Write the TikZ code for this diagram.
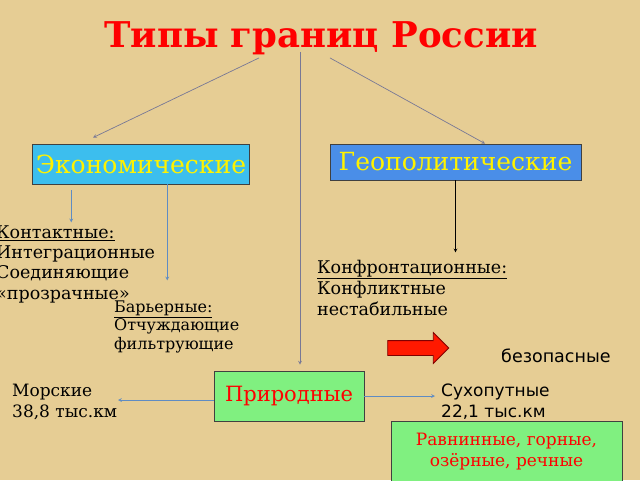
\documentclass[tikz,border=0pt]{standalone}
\usepackage{fontspec}
\setmainfont{DejaVu Serif}
\newfontfamily\sansru{DejaVu Sans}
\usetikzlibrary{calc}
\usetikzlibrary{shapes.arrows}
\definecolor{fon}{RGB}{230,205,148}
\definecolor{goluboy}{RGB}{60,190,238}
\definecolor{siniy}{RGB}{74,142,232}
\definecolor{zelenyy}{RGB}{128,240,128}
\definecolor{seraya}{RGB}{120,120,150}
\definecolor{sinyaya}{RGB}{95,140,195}
\tikzset{blok/.style={draw=black!75,line width=0.8pt,fill=#1},blok/.default=zelenyy}
\tikzset{strelka/.style={->,color=#1,line width=0.7pt},strelka/.default=sinyaya}

\begin{document}
\begin{tikzpicture}[x=1pt,y=-1pt,>=stealth,
                    tekst/.style={inner sep=0pt,anchor=base west,align=left},
                    nadpis/.style={text=yellow,font=\fontsize{25}{30}\selectfont}]

		% Фон
		\fill [fon] (0,0) rectangle (640,480);
		\useasboundingbox (0,0) rectangle (640,480);

		% Заголовок
		\node [anchor=base,text=red,font=\bfseries\fontsize{35.5}{40}\selectfont]
			(titul) at (321,47) {Типы границ России};

		% Три группы границ
		\node [blok=goluboy,nadpis,minimum width=216,minimum height=40]
			(ekon) at (141,164) {Экономические};
		\node [blok=siniy,nadpis,minimum width=251,minimum height=36]
			(geo) at (455.5,162) {Геополитические};
		\node [blok,text=red,font=\fontsize{21}{25}\selectfont,minimum width=150,minimum height=50]
			(prir) at (289,396) {Природные};

		% Стрелки от заголовка
		\draw [strelka=seraya] ($(titul.south)+(-62,0)$) -- ($(ekon.north)+(-48,-6)$);
		\draw [strelka=seraya] ($(titul.south)+(9,0)$) -- ($(geo.north)+(29.5,0)$);
		\draw [strelka=seraya] ($(titul.south)+(-21,-6)$) -- ($(prir.north)+(11,-6)$);

		% Экономические (base = последняя строка)
		\node [tekst,font=\fontsize{17.5}{20.3}\selectfont] (kontakt) at (-4,299)
			{\underline{Контактные:}\\Интеграционные\\Соединяющие\\«прозрачные»};
		\node [tekst,font=\fontsize{16}{18.5}\selectfont] (barier) at (114,349)
			{\underline{Барьерные:}\\Отчуждающие\\фильтрующие};
		\draw [strelka] ($(ekon.south west)+(39,6)$) -- ++(0,32);
		\draw [strelka] ($(ekon.south west)+(135,0)$) -- ++(0,96);

		% Геополитические
		\node [tekst,font=\fontsize{17.5}{21}\selectfont] (konfront) at (317,315)
			{\underline{Конфронтационные:}\\Конфликтные\\нестабильные};
		\draw [strelka=black] (geo.south) -- ++(0,72);
		\node [single arrow,draw=red!50!black,fill=red!80!orange,line width=0.8pt,
		       minimum height=61,inner xsep=0pt,inner ysep=7pt,
		       single arrow head extend=8pt] (perehod) at (414.5,348) {};
		\node [tekst,font=\sansru\fontsize{17.5}{21}\selectfont] (bezop) at (501,362)
			{безопасные};

		% Природные
		\node [tekst,font=\fontsize{17}{21}\selectfont] (morskie) at (12,417)
			{Морские\\38,8 тыс.км};
		\node [tekst,font=\sansru\fontsize{17}{21}\selectfont] (suhop) at (441,417)
			{Сухопутные\\22,1 тыс.км};
		\draw [strelka] ($(prir.west)+(0,4)$) -- ($(morskie.base west)+(106,-17)$);
		\draw [strelka] (prir.east) -- ($(suhop.base west)+(-6,-21)$);
		\node [blok,text=red,font=\fontsize{17}{21}\selectfont,align=center,
		       minimum width=231,minimum height=62] (relief) at (506.5,452)
			{Равнинные, горные,\\озёрные, речные};

	\end{tikzpicture}
\end{document}
